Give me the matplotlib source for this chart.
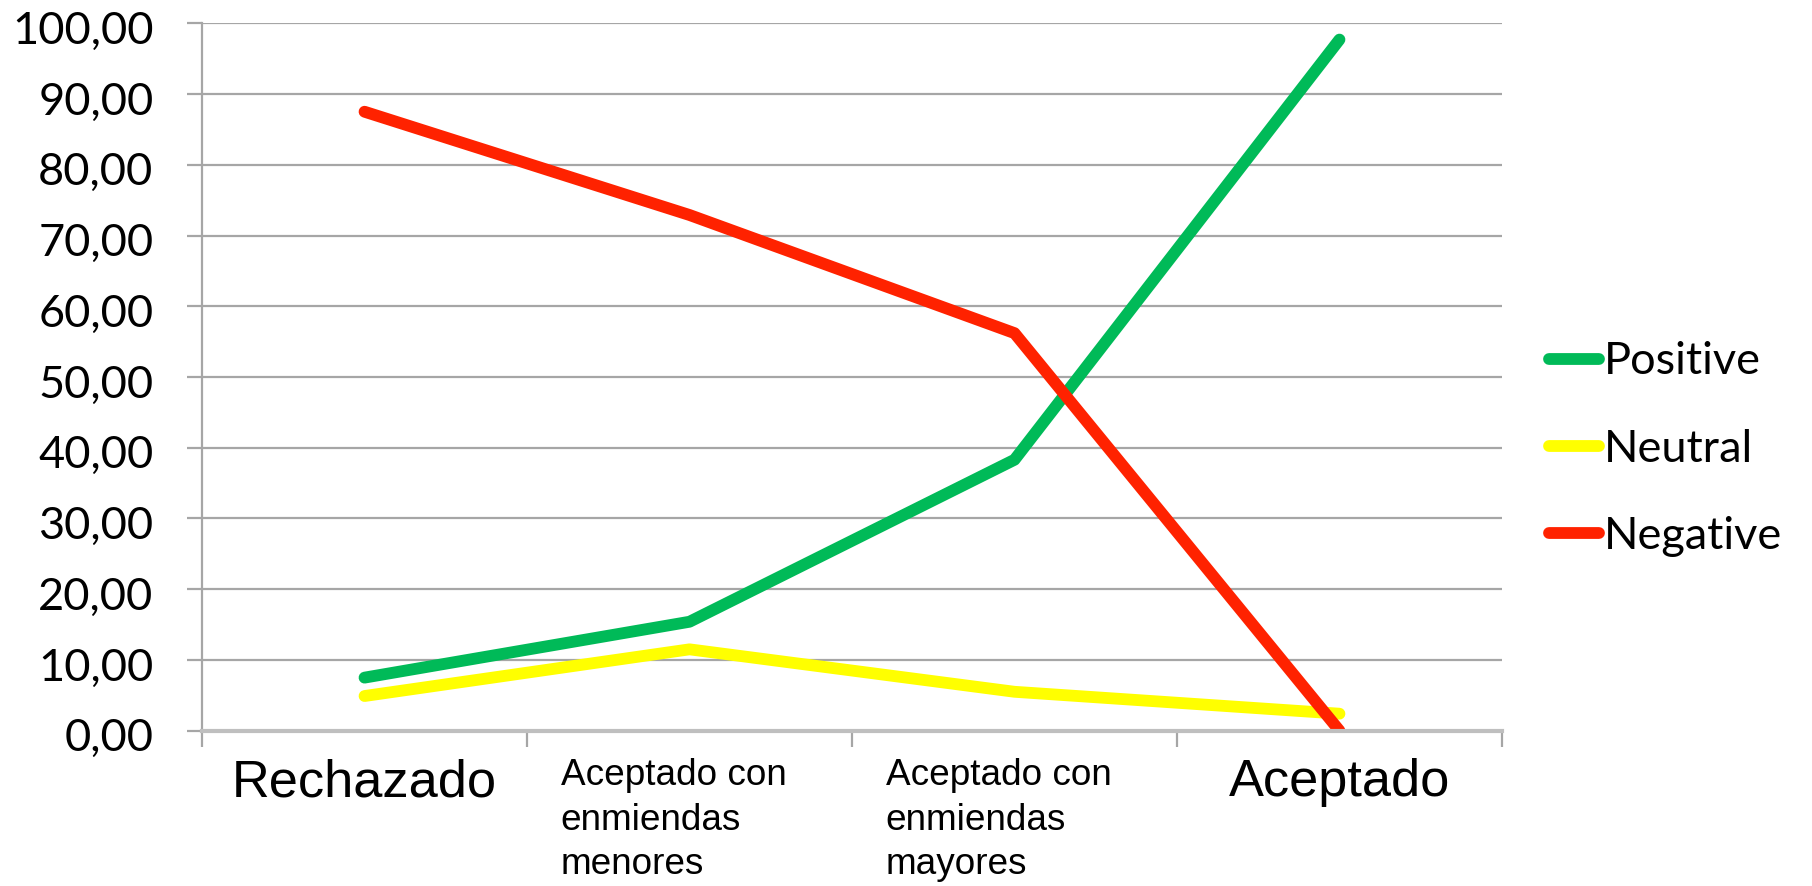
import matplotlib
matplotlib.use("Agg")
import matplotlib.pyplot as plt
import matplotlib.transforms as mtransforms

# categorias y valores (en %)
categorias = ["Rechazado",
              "Aceptado con\nenmiendas\nmenores",
              "Aceptado con\nenmiendas\nmayores",
              "Aceptado"]
positive = [7.5, 15.4, 38.3, 97.7]
neutral = [4.9, 11.5, 5.5, 2.4]
negative = [87.5, 72.9, 56.2, 0.0]
yticks = [0, 10, 20, 30, 40, 50, 60, 70, 80, 90, 100]

gris = "#A6A6A6"

fig = plt.figure(figsize=(18.12, 8.86), dpi=100)
ax = fig.add_axes([0.1115, 0.1753, 0.8289 - 0.1115, 0.9737 - 0.1753])

x = range(len(categorias))
ax.plot(x, positive, color="#00BA58", lw=8.5, solid_capstyle="round", solid_joinstyle="round", label="Positive")
ax.plot(x, neutral, color="#FFFF00", lw=8.5, solid_capstyle="round", solid_joinstyle="round", label="Neutral")
ax.plot(x, negative, color="#FF2200", lw=8.5, solid_capstyle="round", solid_joinstyle="round", label="Negative")

ax.set_xlim(-0.5, len(categorias) - 0.5)
ax.set_ylim(0, 100)

# eje Y
ax.set_yticks(yticks)
ax.set_yticklabels([f"{v:.2f}".replace(".", ",") for v in yticks], family="Lato", fontsize=32.5)
ax.yaxis.grid(True, color=gris, lw=1.6)
ax.set_axisbelow(True)
ax.tick_params(axis="y", length=11, width=1.6, color=gris, pad=24)
abajo = mtransforms.ScaledTranslation(0, -4 / 100, fig.dpi_scale_trans)
for lab in ax.get_yticklabels():
    lab.set_transform(lab.get_transform() + abajo)

# eje X: marcas entre categorias, etiquetas al centro
ax.set_xticks([i + 0.5 for i in range(-1, len(categorias))], minor=True)
ax.set_xticks(list(x))
ax.set_xticklabels(categorias)
ax.tick_params(axis="x", which="minor", length=11.5, width=1.6, color=gris)
ax.tick_params(axis="x", which="major", length=0, pad=20)

for i, lab in enumerate(ax.get_xticklabels()):
    lab.set_family("Liberation Sans")
    if "\n" in categorias[i]:
        lab.set_fontsize(26.6)
        lab.set_multialignment("left")
        lab.set_linespacing(1.34)
        off = mtransforms.ScaledTranslation(-16 / 100, 0, fig.dpi_scale_trans)
        lab.set_transform(lab.get_transform() + off)
    else:
        lab.set_fontsize(37.7)

for s in ["top", "right"]:
    ax.spines[s].set_visible(False)
ax.spines["left"].set_color(gris)
ax.spines["left"].set_linewidth(1.6)
ax.spines["bottom"].set_color("#BFBFBF")
ax.spines["bottom"].set_linewidth(3)

leg = fig.legend(loc="center left", bbox_to_anchor=(1549 / 1812, 1 - 449 / 886),
                 frameon=False, borderpad=0, borderaxespad=0,
                 handlelength=1.1, handletextpad=0.12, labelspacing=1.02,
                 prop={"family": "Lato", "size": 32.5})

fig.savefig("out.png", dpi=100)
